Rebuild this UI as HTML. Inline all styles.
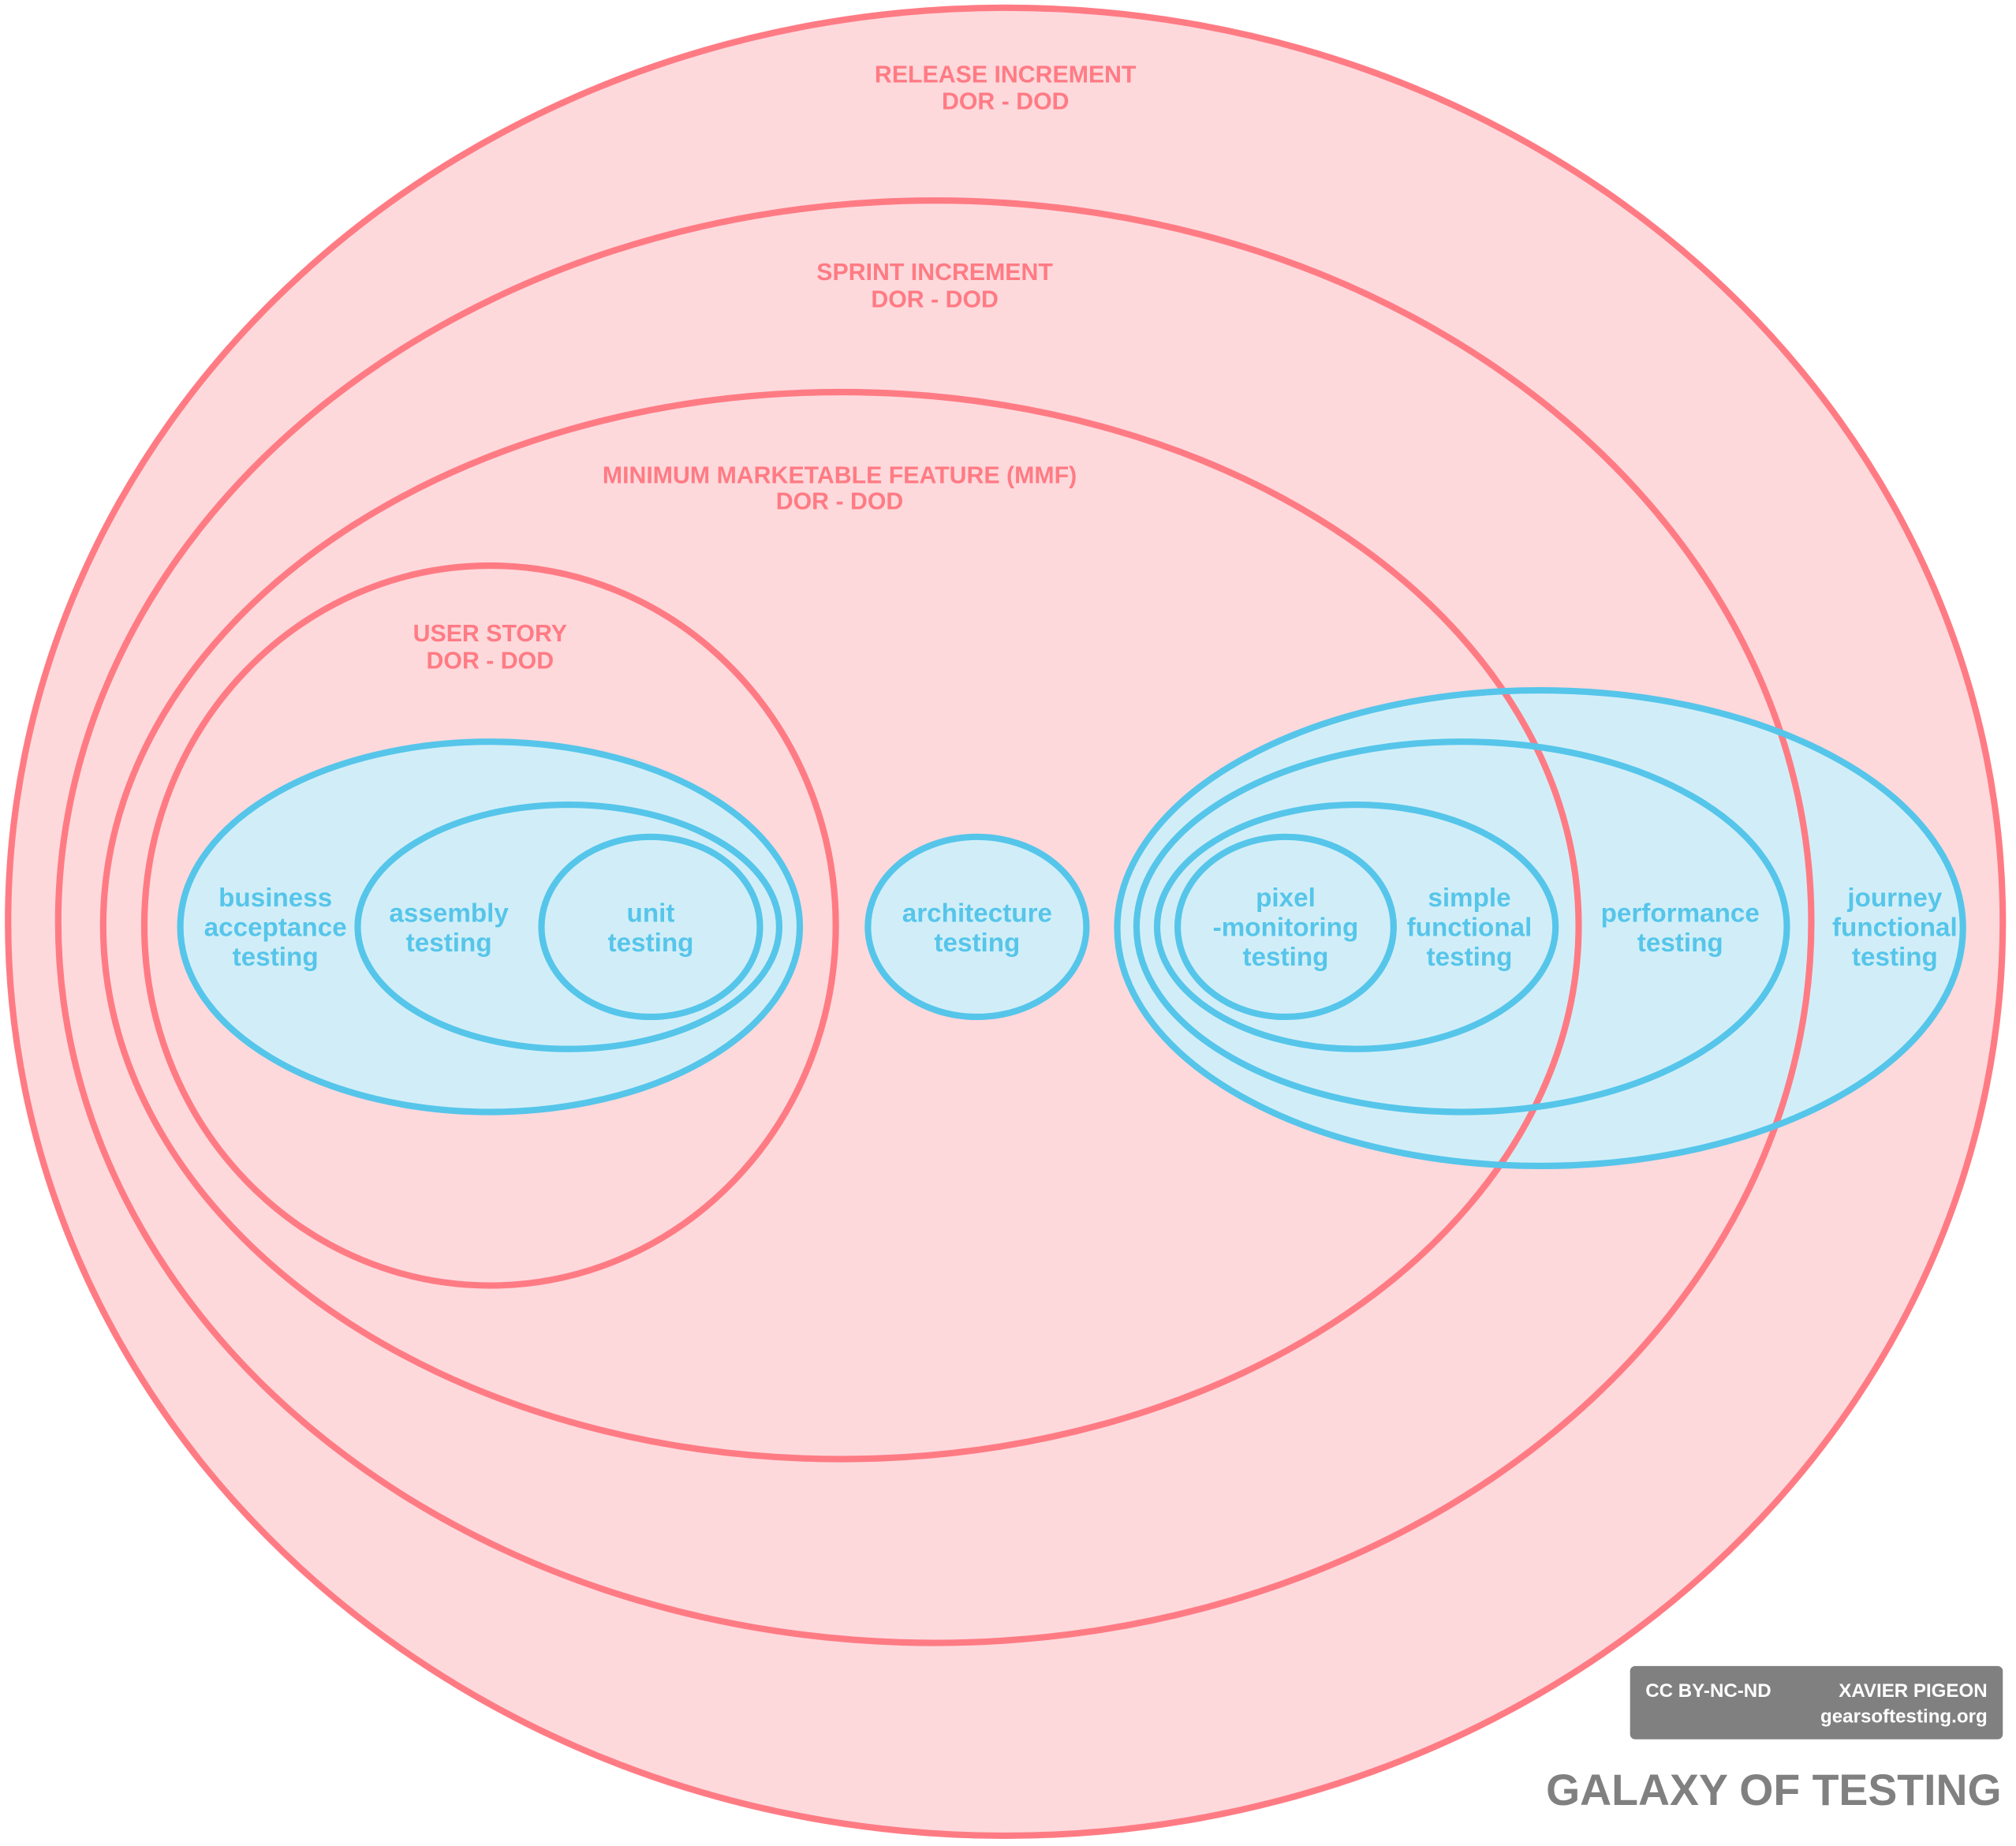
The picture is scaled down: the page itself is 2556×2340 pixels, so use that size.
<!DOCTYPE html>
<html><head><meta charset="utf-8"><style>
html,body{margin:0;padding:0;background:#fff;}
svg{display:block;}
text{font-family:"Liberation Sans",Arial,sans-serif;font-weight:bold;text-anchor:middle;}
.p{fill:#ff7b84;font-size:18.6px;}
.b{fill:#56c5ea;font-size:20.4px;}
</style></head><body>
<svg width="2556" height="2340" viewBox="0 0 1568 1436" xmlns="http://www.w3.org/2000/svg">
<g fill="#fdd9dc" stroke="none">
<ellipse cx="782" cy="717" rx="776" ry="711"/>
</g>
<g fill="#d1eef8">
<ellipse cx="1198" cy="722" rx="329" ry="185"/>
<ellipse cx="381" cy="721" rx="241" ry="144"/>
<ellipse cx="760" cy="721" rx="85" ry="70"/>
</g>
<g fill="none" stroke="#ff7b84" stroke-width="5">
<ellipse cx="782" cy="717" rx="776" ry="711"/>
<ellipse cx="727" cy="717" rx="682" ry="561"/>
<ellipse cx="654" cy="720" rx="574" ry="415"/>
<ellipse cx="381" cy="720" rx="269" ry="280"/>
</g>
<g fill="none" stroke="#56c5ea" stroke-width="5">
<ellipse cx="1198" cy="722" rx="329" ry="185"/>
<ellipse cx="1137" cy="721" rx="253" ry="144"/>
<ellipse cx="1055" cy="721" rx="155" ry="95"/>
<ellipse cx="1000" cy="721" rx="84" ry="70"/>
<ellipse cx="381" cy="721" rx="241" ry="144"/>
<ellipse cx="442" cy="721" rx="164" ry="95"/>
<ellipse cx="506" cy="721" rx="85" ry="70"/>
<ellipse cx="760" cy="721" rx="85" ry="70"/>
</g>
<text class="p" x="782" y="64">RELEASE INCREMENT</text>
<text class="p" x="782" y="85">DOR - DOD</text>
<text class="p" x="727" y="218">SPRINT INCREMENT</text>
<text class="p" x="727" y="239">DOR - DOD</text>
<text class="p" x="653" y="376">MINIMUM MARKETABLE FEATURE (MMF)</text>
<text class="p" x="653" y="396">DOR - DOD</text>
<text class="p" x="381" y="499">USER STORY</text>
<text class="p" x="381" y="520">DOR - DOD</text>
<text class="b" x="214" y="705">business</text>
<text class="b" x="214" y="728">acceptance</text>
<text class="b" x="214" y="751">testing</text>
<text class="b" x="349" y="717">assembly</text>
<text class="b" x="349" y="740">testing</text>
<text class="b" x="506" y="717">unit</text>
<text class="b" x="506" y="740">testing</text>
<text class="b" x="760" y="717">architecture</text>
<text class="b" x="760" y="740">testing</text>
<text class="b" x="1000" y="705">pixel</text>
<text class="b" x="1000" y="728">-monitoring</text>
<text class="b" x="1000" y="751">testing</text>
<text class="b" x="1143" y="705">simple</text>
<text class="b" x="1143" y="728">functional</text>
<text class="b" x="1143" y="751">testing</text>
<text class="b" x="1307" y="717">performance</text>
<text class="b" x="1307" y="740">testing</text>
<text class="b" x="1474" y="705">journey</text>
<text class="b" x="1474" y="728">functional</text>
<text class="b" x="1474" y="751">testing</text>
<rect x="1268" y="1296" width="290" height="57" rx="4" fill="#808080"/>
<text x="1280" y="1320" style="fill:#fff;font-size:14.8px;text-anchor:start">CC BY-NC-ND</text>
<text x="1546" y="1320" style="fill:#fff;font-size:14.8px;text-anchor:end">XAVIER PIGEON</text>
<text x="1546" y="1340" style="fill:#fff;font-size:14.8px;text-anchor:end">gearsoftesting.org</text>
<text x="1557" y="1404" style="fill:#808080;font-size:34px;text-anchor:end">GALAXY OF TESTING</text>
</svg>
</body></html>
